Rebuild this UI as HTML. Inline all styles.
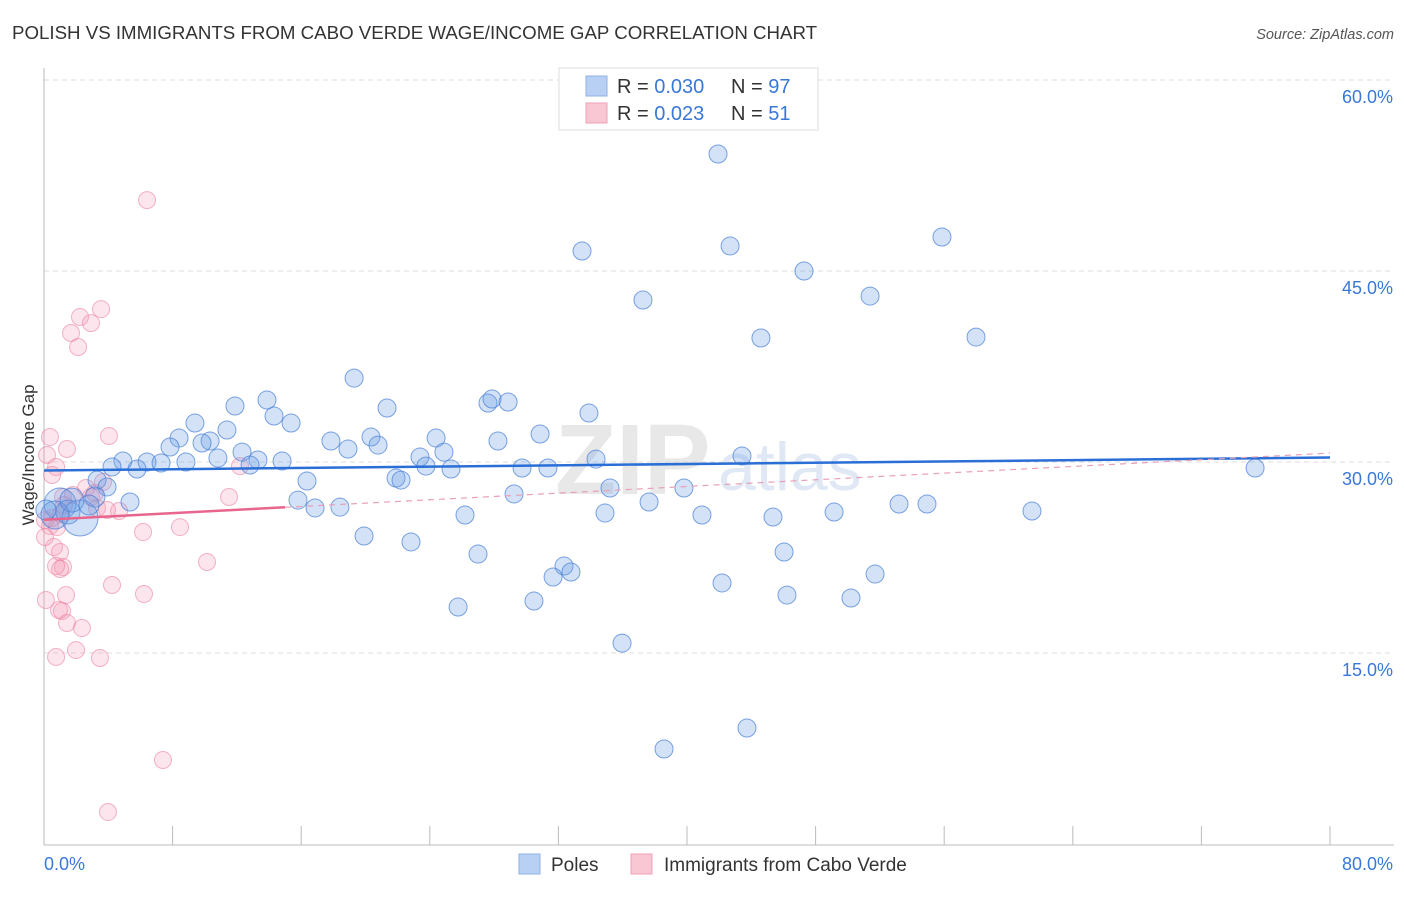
<!DOCTYPE html>
<html><head><meta charset="utf-8">
<style>
body{margin:0;background:#fff;font-family:"Liberation Sans",sans-serif;}
svg text{font-family:"Liberation Sans",sans-serif;}
</style></head>
<body>
<svg id="chart" width="1406" height="892" viewBox="0 0 1406 892" xmlns="http://www.w3.org/2000/svg">
<text x="12" y="39" font-size="18.7" fill="#333">POLISH VS IMMIGRANTS FROM CABO VERDE WAGE/INCOME GAP CORRELATION CHART</text>
<text x="1394" y="39" font-size="14.5" fill="#555" font-style="italic" text-anchor="end">Source: ZipAtlas.com</text>
<text x="555" y="494" font-size="100" fill="#e8e8e8" font-family="Liberation Serif" font-weight="bold">ZIP</text>
<text x="718" y="490" font-size="68" fill="#e0e8f5">atlas</text>
<g id="grid"></g>
<g id="axes"></g>
<g id="pink"></g>
<g id="blue"></g>
<g id="trends"></g>
<text transform="translate(34,455) rotate(-90)" font-size="17" fill="#333" text-anchor="middle">Wage/Income Gap</text>
<g>
<rect x="559" y="68" width="259" height="62" fill="#fff" stroke="#ddd"/>
<rect x="586" y="76" width="21" height="20" fill="#b8d0f4" stroke="#8fb2e6"/>
<rect x="586" y="103" width="21" height="20" fill="#f9c6d4" stroke="#efa2b9"/>
<text x="617" y="93" font-size="20" fill="#333">R = <tspan fill="#3a78d8">0.030</tspan></text>
<text x="731" y="93" font-size="20" fill="#333">N = <tspan fill="#3a78d8">97</tspan></text>
<text x="617" y="120" font-size="20" fill="#333">R =  <tspan fill="#3a78d8">0.023</tspan></text>
<text x="731" y="120" font-size="20" fill="#333">N =  <tspan fill="#3a78d8">51</tspan></text>
</g>
<g>
<rect x="519" y="854" width="21" height="20" fill="#b8d0f4" stroke="#8fb2e6"/>
<text x="551" y="871" font-size="19" fill="#333">Poles</text>
<rect x="631" y="854" width="21" height="20" fill="#f9c6d4" stroke="#efa2b9"/>
<text x="664" y="871" font-size="19" fill="#333">Immigrants from Cabo Verde</text>
</g>
</svg>
<script>
const yTicks=[15,30,45,60];
const yTickLabels=["15.0%","30.0%","45.0%","60.0%"];
const xTickLabels=["0.0%","80.0%"];
const blueX=[41.93,42.68,55.86,33.47,47.28,37.26,51.39,44.60,57.98,19.29,13.87,11.88,27.62,27.87,28.87,21.34,33.90,14.31,15.37,9.39,8.40,20.34,17.85,24.39,30.86,28.24,10.33,9.83,11.38,7.84,18.91,20.78,12.32,24.88,23.39,34.34,43.42,4.91,6.41,7.28,8.83,10.82,13.31,14.81,4.23,5.79,12.82,23.76,25.32,29.74,31.35,75.34,21.90,22.21,16.36,3.30,3.92,35.21,39.81,29.24,15.80,5.35,37.64,53.19,54.93,16.86,18.41,26.19,34.90,40.93,45.35,49.15,61.46,1.0,1.49,2.24,0.68,19.91,22.83,27.0,46.04,32.35,32.78,31.67,42.18,51.70,30.48,46.22,50.20,25.76,35.96,43.73,38.57,3.17,1.74,2.80,0.12];
const blueY=[54.19,46.96,47.67,46.57,45.0,42.72,43.03,39.74,39.81,36.59,34.87,34.40,34.63,34.95,34.71,34.24,33.85,33.61,33.06,33.06,31.88,31.96,31.65,31.88,32.20,31.65,31.65,31.49,32.51,31.18,31.02,31.33,30.78,30.78,30.39,30.23,30.47,30.08,30.0,29.92,30.0,30.31,30.16,30.08,29.61,29.45,29.76,29.68,29.45,29.53,29.53,29.53,28.74,28.58,28.51,28.58,28.04,27.96,27.96,27.49,27.01,26.86,26.86,26.70,26.70,26.39,26.46,25.84,25.99,25.84,25.68,26.07,26.15,26.70,26.07,25.60,25.84,24.19,23.72,22.77,22.93,21.83,21.36,20.97,20.50,21.20,19.08,19.55,19.32,18.61,15.78,9.11,7.46,27.25,27.01,26.62,26.23];
const blueSize=[9,9,9,9,9,9,9,9,9,9,9,9,9,9,9,9,9,9,9,9,9,9,9,9,9,9,9,9,9,9,9,9,9,9,9,9,9,9,9,9,9,9,9,9,9,9,9,9,9,9,9,9,9,9,9,9,9,9,9,9,9,9,9,9,9,9,9,9,9,9,9,9,9,16,12,18,14,9,9,9,9,9,9,9,9,9,9,9,9,9,9,9,9,10,12,10,10];
const pinkX=[6.41,3.55,2.24,2.92,1.68,2.12,4.04,0.37,1.43,0.19,0.75,12.19,0.50,2.61,3.67,1.80,2.92,1.18,11.51,3.30,4.67,3.92,1.06,0.50,0.37,0.81,8.46,6.16,0.06,0.62,1.0,10.14,1.18,1.0,0.75,4.23,1.37,6.22,0.12,1.12,0.93,1.43,2.36,1.99,0.75,3.48,7.40,3.98,0.06,1.24,3.17];
const pinkY=[50.57,42.01,41.39,40.91,40.13,39.03,32.04,31.96,31.02,30.55,29.61,29.68,28.98,27.96,28.43,27.41,27.25,27.25,27.25,26.39,26.15,26.23,25.91,25.60,24.97,24.89,24.89,24.50,24.11,23.32,22.93,22.15,21.75,21.60,21.83,20.34,19.55,19.63,19.16,18.30,18.38,17.36,16.96,15.23,14.69,14.61,6.60,2.51,25.44,26.62,27.56];
const blueTrend=[29.33,30.35];
const pinkTrend=[25.46,30.7];
const pinkSolidEnd=15;

const X0=44,X1=1330,XMAX=80,Y0=844,PX15=191;
function sx(v){return X0+(X1-X0)*v/XMAX;}
function sy(v){return Y0-v*PX15/15;}
const NS="http://www.w3.org/2000/svg";
function mk(tag,attrs,parent){const e=document.createElementNS(NS,tag);for(const k in attrs)e.setAttribute(k,attrs[k]);parent.appendChild(e);return e;}

const grid=document.getElementById('grid');
yTicks.forEach((t,i)=>{
  const g=mk('line',{x1:X0,x2:1394,y1:sy(t),y2:sy(t),stroke:'#dcdcdc','stroke-dasharray':'5,4'},grid);
  
  
  const tx=mk('text',{x:1393,y:sy(t)+23,'font-size':18,fill:'#3a78d8','text-anchor':'end'},grid);
  tx.textContent=yTickLabels[i];
  
  
});
const axes=document.getElementById('axes');
let a=mk('line',{x1:X0,x2:X0,y1:68,y2:Y0+1,stroke:'#bbb'},axes);


a=mk('line',{x1:X0,x2:1394,y1:Y0+1,y2:Y0+1,stroke:'#bbb'},axes);


for(let i=0;i<=10;i++){
  const t=mk('line',{x1:sx(i*8),x2:sx(i*8),y1:Y0-18,y2:Y0+1,stroke:'#bbb'},axes);
  
  
}
let xl=mk('text',{x:44,y:870,'font-size':18,fill:'#3a78d8'},axes);xl.textContent=xTickLabels[0];


xl=mk('text',{x:1393,y:870,'font-size':18,fill:'#3a78d8','text-anchor':'end'},axes);xl.textContent=xTickLabels[1];



const pg=document.getElementById('pink');
pinkX.forEach((v,i)=>{
  const c=mk('circle',{cx:sx(v),cy:sy(pinkY[i]),r:8.5,fill:'rgba(244,150,178,0.25)',stroke:'rgba(236,130,162,0.6)','stroke-width':1},pg);
  
  
});
const bg=document.getElementById('blue');
blueX.forEach((v,i)=>{
  const c=mk('circle',{cx:sx(v),cy:sy(blueY[i]),r:blueSize[i],fill:'rgba(110,158,230,0.3)',stroke:'rgba(70,125,215,0.7)','stroke-width':1},bg);
  
  
});
const tg=document.getElementById('trends');
let l=mk('line',{x1:sx(0),y1:sy(blueTrend[0]),x2:sx(80),y2:sy(blueTrend[1]),stroke:'#2a6fd6','stroke-width':2.5},tg);


const pAt=v=>pinkTrend[0]+(pinkTrend[1]-pinkTrend[0])*v/80;
l=mk('line',{x1:sx(0),y1:sy(pinkTrend[0]),x2:sx(pinkSolidEnd),y2:sy(pAt(pinkSolidEnd)),stroke:'#e8668e','stroke-width':2.5},tg);


l=mk('line',{x1:sx(pinkSolidEnd),y1:sy(pAt(pinkSolidEnd)),x2:sx(80),y2:sy(pinkTrend[1]),stroke:'#e8a0b6','stroke-width':1.2,'stroke-dasharray':'6,5'},tg);


</script>
</body></html>
